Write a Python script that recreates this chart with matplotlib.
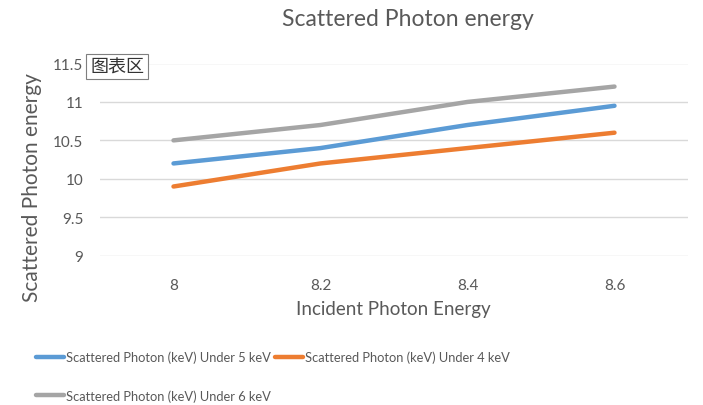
import matplotlib
matplotlib.use("Agg")
import matplotlib.pyplot as plt
from matplotlib.lines import Line2D

categories = ["8", "8.2", "8.4", "8.6"]
under5 = [10.2, 10.4, 10.7, 10.95]
under4 = [9.9, 10.2, 10.4, 10.6]
under6 = [10.5, 10.7, 11.0, 11.2]
series_names = ["Scattered Photon (keV) Under 5 keV",
                "Scattered Photon (keV) Under 4 keV",
                "Scattered Photon (keV) Under 6 keV"]
y_ticks = [9, 9.5, 10, 10.5, 11, 11.5]
y_tick_labels = ["9", "9.5", "10", "10.5", "11", "11.5"]

colors = ["#5B9BD5", "#ED7D31", "#A5A5A5"]
txt = "#595959"
plt.rcParams['font.family'] = ['Lato', 'DejaVu Sans']

fig = plt.figure(figsize=(7.03, 4.06), dpi=100)
ax = fig.add_axes([100/703, 1-256.7/406, 588/703, (256.7-64.5)/406])

x = list(range(len(categories)))
for vals, c, n in zip([under5, under4, under6], colors, series_names):
    ax.plot(x, vals, color=c, lw=3.2, solid_capstyle='round', solid_joinstyle='round', label=n, zorder=3)

ax.set_xlim(-0.5, len(categories) - 0.5)
ax.set_ylim(9, 11.5)
ax.set_yticks(y_ticks)
ax.set_yticklabels(y_tick_labels)
ax.set_xticks(x)
ax.set_xticklabels(categories)
ax.grid(axis='y', color='#D9D9D9', lw=1.0)
ax.set_axisbelow(True)
for s in ax.spines.values():
    s.set_visible(False)
ax.tick_params(length=0, labelsize=11, colors=txt, pad=12)
ax.tick_params(axis='x', pad=16)

fig.text(408/703, 1-20/406, "Scattered Photon energy", ha='center', va='center', fontsize=16.5, color=txt)
fig.text(393/703, 1-310/406, "Incident Photon Energy", ha='center', va='center', fontsize=13.5, color=txt)
fig.text(32/703, 1-188/406, "Scattered Photon energy", ha='center', va='center', rotation=90, fontsize=15, color=txt)

handles = [Line2D([], [], color=c, lw=3.2, solid_capstyle='round') for c in colors]
order = [0, 2, 1]
leg = fig.legend([handles[i] for i in order], [series_names[i] for i in order],
                 ncol=2, loc='upper left', bbox_to_anchor=(24/703, 1-340/406),
                 frameon=False, fontsize=9.3, handlelength=2.2, handletextpad=0.15,
                 columnspacing=0.3, labelspacing=2.0, labelcolor=txt)

fig.text(117/703, 1-67.5/406, "图表区", ha='center', va='center', fontsize=13,
         family=['Noto Sans CJK SC', 'DejaVu Sans'], color='#333333',
         bbox=dict(boxstyle='square,pad=0.22', fc='white', ec='#7F7F7F', lw=0.8))

fig.savefig("out.png", dpi=100)
